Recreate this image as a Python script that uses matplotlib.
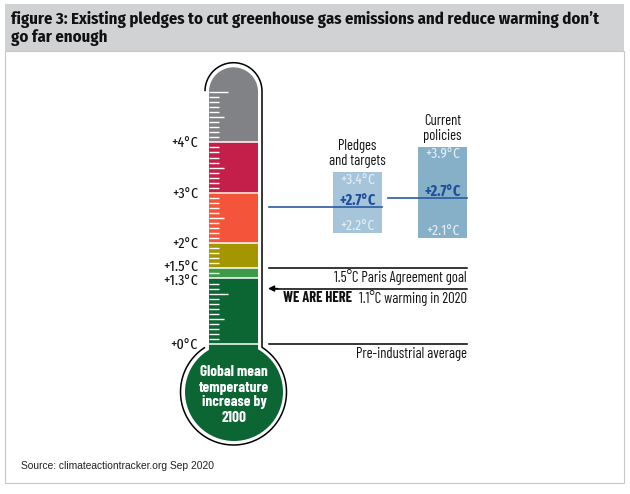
import numpy as np
import matplotlib
matplotlib.use("Agg")
import matplotlib.pyplot as plt
from matplotlib.patches import Circle, PathPatch, Rectangle
from matplotlib.path import Path

### DATA

band_edges = [0, 1.3, 1.5, 2, 3, 4, 5.6]  # Temperature bands in the tube
band_colors = ["#0b6633", "#3f9a47", "#a39600", "#f4553a", "#c41e4a", "#808285"]
scale_labels = ["+0°C", "+1.3°C", "+1.5°C", "+2°C", "+3°C", "+4°C"]
scale_values = [0, 1.3, 1.5, 2, 3, 4]

scenario_names = ["Pledges\nand targets", "Current\npolicies"]
scenario_low = [2.2, 2.1]
scenario_high = [3.41, 3.91]
scenario_line = [2.72, 2.9]  # Where the blue line is drawn
scenario_colors = ["#a6c5da", "#86afc8"]
low_labels = ["+2.2°C", "+2.1°C"]
mid_labels = ["+2.7°C", "+2.7°C"]
high_labels = ["+3.4°C", "+3.9°C"]

paris_goal = 1.5
warming_2020 = 1.1
pre_industrial = 0

## End of data

title_font = ["Fira Sans Condensed", "Barlow Condensed", "DejaVu Sans"]
narrow = ["Fira Sans Extra Condensed", "Barlow Condensed", "DejaVu Sans"]
tall = ["Barlow Condensed", "Fira Sans Extra Condensed", "DejaVu Sans"]
plt.rcParams["font.stretch"] = "condensed"
px_per_degree = 50.4
zero_px = 344
text_size = 11
note_size = 10.5

fig = plt.figure(figsize=(6.3, 4.94), dpi=100)

# Pixel axes for the page furniture and the glass
ax_px = fig.add_axes([0, 0, 1, 1])
ax_px.set_xlim(0, 630)
ax_px.set_ylim(494, 0)
ax_px.axis("off")

# Temperature axes for everything that has a value
ax = fig.add_axes([0, 0, 1, 1])
ax.set_xlim(0, 630)
ax.set_ylim((zero_px - 494) / px_per_degree, zero_px / px_per_degree)
ax.axis("off")
ax.patch.set_alpha(0)

# Header band and frame
ax_px.add_patch(Rectangle((4.5, 4), 619.5, 47, fc="#d1d2d4", ec="none"))
ax_px.add_patch(Rectangle((4.5, 51), 619.5, 432, fc="white", ec="#c8c8c8", lw=0.8))
ax_px.text(11, 20, "figure 3: Existing pledges to cut greenhouse gas emissions and reduce warming don’t",
           family=title_font, weight="bold", fontsize=12, va="center", color="#111111")
ax_px.text(11, 37.5, "go far enough", family=title_font, weight="bold", fontsize=12, va="center", color="#111111")
ax_px.text(21, 466, "Source: climateactiontracker.org Sep 2020", family="Liberation Sans", stretch="normal",
           fontsize=7.35, va="center", color="#222222")


def glass_path(half_width, top, radius, xc=233.5, yc=392):
    # Tube with a round top running into the bulb circle
    cap_y = top + half_width
    cap = np.linspace(np.pi, 0, 40)
    start = np.arcsin(half_width / radius)
    bulb = np.linspace(start, 2 * np.pi - start, 80)
    xs = np.r_[xc + half_width * np.cos(cap), xc + radius * np.sin(bulb)]
    ys = np.r_[cap_y - half_width * np.sin(cap), yc - radius * np.cos(bulb)]
    return Path(np.column_stack([xs, ys]))


# Glass outline
ax_px.add_patch(PathPatch(glass_path(28.5, 62.7, 53), fc="white", ec="black", lw=1.1))
ax_px.add_patch(Circle((234, 392), 49, fc=band_colors[0], ec="none"))

# Inner shape used to round off the top band
clip = PathPatch(glass_path(24.5, 67.3, 49), transform=ax_px.transData, fc="none", ec="none")
ax_px.add_patch(clip)

# Temperature bands
for i in range(len(band_colors)):
    bar = ax.bar(233.5, band_edges[i + 1] - band_edges[i], bottom=band_edges[i], width=49,
                 color=band_colors[i], linewidth=0)[0]
    bar.set_clip_path(clip)
ax.bar(233.5, 0.2, bottom=-0.2, width=49, color=band_colors[0], linewidth=0)

# White separators between the bands
ax.hlines(band_edges[:-1], 209, 258, color="white", lw=1.1)
ax.hlines(3, 209, 258, color="#f7c9c0", lw=1.4)

# Graduations, every 0.1 degree
for i in range(1, 51):
    t = i / 10
    if t in band_edges:
        continue
    length = 10
    if i % 10 == 5:
        length = 15
    if i in (10, 50):
        length = 19
    ax.plot([209, 209 + length], [t, t], color="white", lw=1.0, solid_capstyle="butt")

# Scale labels
label_nudge = {1.3: -1.4, 1.5: 1.2}
for v, lab in zip(scale_values, scale_labels):
    ax.annotate(lab, (198, v), xytext=(0, label_nudge.get(v, -0.5)), textcoords="offset points",
                ha="right", va="center", family=narrow, fontsize=text_size, color="#111111")

# Bulb text
for y, line in zip([372, 388, 402, 418], ["Global mean", "temperature", "increase by", "2100"]):
    ax_px.text(234, y, line, ha="center", va="center", family=tall, weight="bold", fontsize=11,
               color="white")

# Scenario ranges
bar_x = [357.5, 442.5]
line_start = [269, 388]
for i in range(2):
    ax.bar(bar_x[i], scenario_high[i] - scenario_low[i], bottom=scenario_low[i], width=49,
           color=scenario_colors[i], linewidth=0)
    ax.plot([line_start[i], bar_x[i] + 24.5], [scenario_line[i]] * 2, color="#2a5aa0", lw=1.2)
    ax.annotate(high_labels[i], (bar_x[i], scenario_high[i]), xytext=(0, -5.5), textcoords="offset points",
                ha="center", va="center", family=narrow, fontsize=text_size - 0.5, color="#e4eef5")
    ax.annotate(low_labels[i], (bar_x[i], scenario_low[i]), xytext=(0, 5.5), textcoords="offset points",
                ha="center", va="center", family=narrow, fontsize=text_size - 0.5, color="#e4eef5")
    ax.annotate(mid_labels[i], (bar_x[i], scenario_line[i]), xytext=(0, 4.5), textcoords="offset points",
                ha="center", va="center", family=narrow, weight="bold", fontsize=text_size, color="#1f4e9c")
    ax.annotate(scenario_names[i], (bar_x[i], scenario_high[i]), xytext=(0, 3), textcoords="offset points",
                ha="center", va="bottom", family=tall, fontsize=note_size, color="#111111", linespacing=1.1)

# Reference lines on the right
ax.plot([269, 467], [paris_goal] * 2, color="black", lw=1.1)
ax.plot([269, 467], [pre_industrial] * 2, color="black", lw=1.1)
ax.plot([275, 467], [warming_2020] * 2, color="black", lw=1.1)
ax.annotate("", (268, warming_2020), xytext=(278, warming_2020),
            arrowprops=dict(arrowstyle="-|>", color="black", lw=1, shrinkA=0, shrinkB=0, mutation_scale=9))
ax.annotate("1.5°C Paris Agreement goal", (467, paris_goal), xytext=(0, -6.5), textcoords="offset points",
            ha="right", va="center", family=tall, fontsize=note_size, color="#111111")
ax.annotate("Pre-industrial average", (467, pre_industrial), xytext=(0, -7), textcoords="offset points",
            ha="right", va="center", family=tall, fontsize=note_size, color="#111111")
ax.annotate("1.1°C warming in 2020", (467, warming_2020), xytext=(0, -6.5), textcoords="offset points",
            ha="right", va="center", family=tall, fontsize=note_size, color="#111111")
ax.annotate("WE ARE HERE", (352, warming_2020), xytext=(0, -6.5), textcoords="offset points",
            ha="right", va="center", family=tall, weight="bold", fontsize=note_size, color="#111111")

fig.savefig("out.png", dpi=100)
